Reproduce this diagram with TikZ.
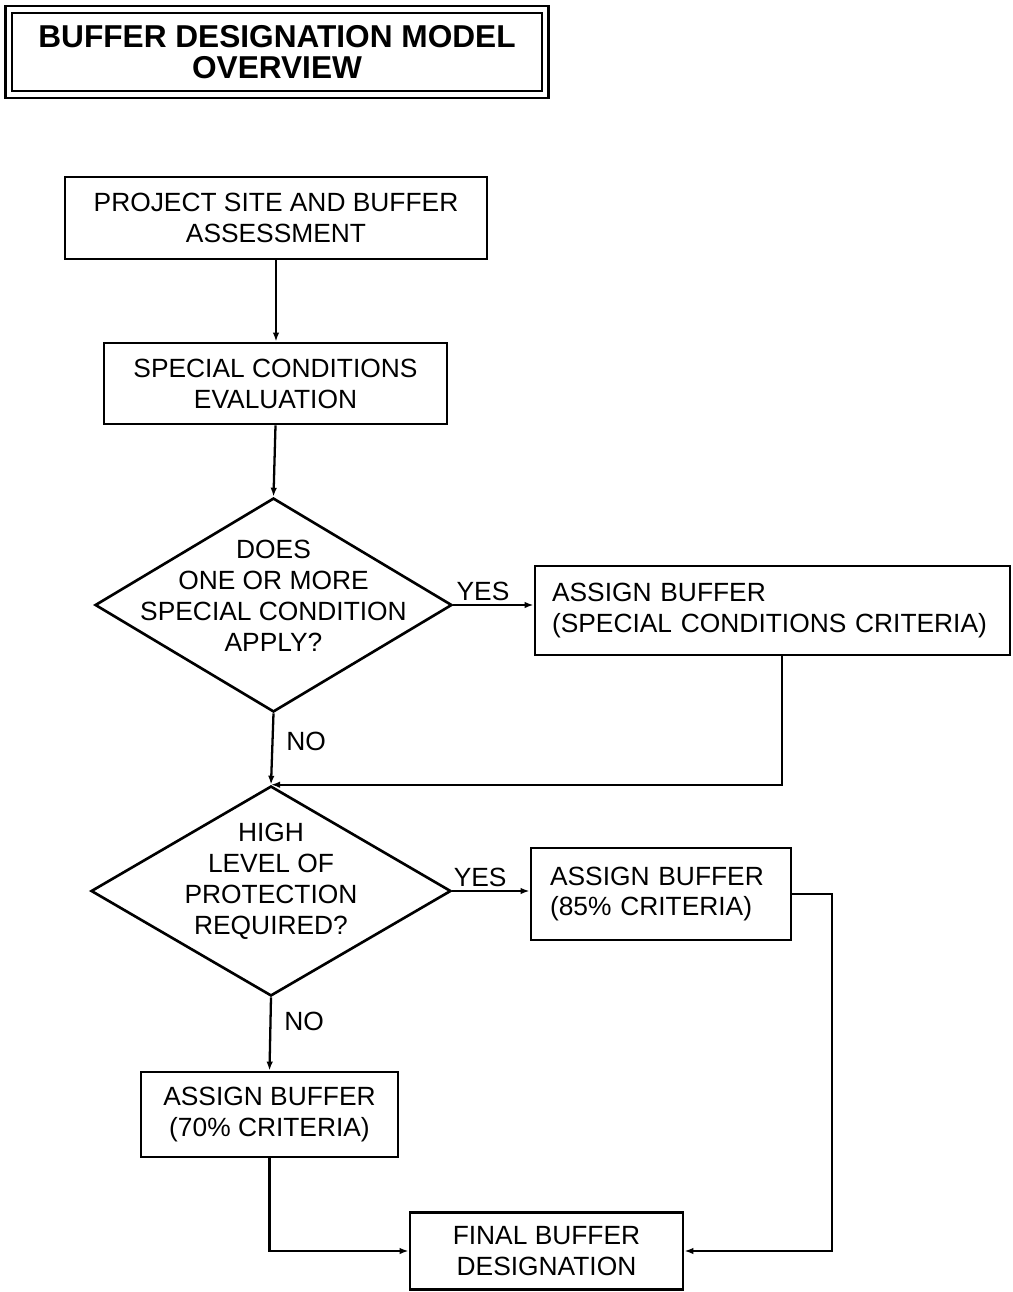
\documentclass[tikz,border=0pt]{standalone}
\usepackage{fontspec}
\setmainfont{Liberation Sans}
\usetikzlibrary{shapes.geometric, arrows.meta, positioning}

\begin{document}
\begin{tikzpicture}[x=0.02cm, y=-0.02cm, font=\fontsize{15}{17.6}\selectfont,
        >={Latex[length=1.8mm, width=1.3mm]},
        caja/.style={draw, line width=1.6pt, align=center, inner sep=0pt},
        cajai/.style={caja, align=left, inner xsep=0.34cm},
        rombo/.style={diamond, draw, line width=1.5pt, inner sep=0pt},
        txt/.style={align=center, inner sep=0pt},
        fl/.style={->, line width=1.3pt},
        lbl/.style={inner sep=1.5pt}]
        \useasboundingbox (0,0) rectangle (1012,1292);
        \node[draw, line width=1.3pt, double, double distance=0.09cm,
            minimum width=10.73cm, minimum height=1.71cm, align=center,
            font=\bfseries\fontsize{18}{17.5}\selectfont] (tit) at (277,52)
            {BUFFER DESIGNATION MODEL\\OVERVIEW};
        \node[caja, minimum width=8.44cm, minimum height=1.64cm] (b1) at (276,218)
            {PROJECT SITE AND BUFFER\\ASSESSMENT};
        \node[caja, minimum width=6.86cm, minimum height=1.62cm] (b2) at (275.5,383.5)
            {SPECIAL CONDITIONS\\EVALUATION};
        \node[rombo, minimum width=7.14cm, minimum height=4.28cm] (d1) at (273.5,605) {};
        \node[txt, yshift=0.18cm] (t1) at (d1) {DOES\\ONE OR MORE\\SPECIAL CONDITION\\APPLY?};
        \node[cajai, text width=8.82cm, minimum height=1.78cm] (b3) at (772.5,610.5)
            {ASSIGN BUFFER\\(SPECIAL CONDITIONS CRITERIA)};
        \node[rombo, minimum width=7.2cm, minimum height=4.2cm] (d2) at (271,891) {};
        \node[txt, yshift=0.2cm] (t2) at (d2) {HIGH\\LEVEL OF\\PROTECTION\\REQUIRED?};
        \node[cajai, inner xsep=0.38cm, text width=4.44cm, minimum height=1.84cm] (b4) at (661,894)
            {ASSIGN BUFFER\\(85\% CRITERIA)};
        \node[caja, minimum width=5.14cm, minimum height=1.7cm] (b5) at (269.5,1114.5)
            {ASSIGN BUFFER\\(70\% CRITERIA)};
        \node[caja, minimum width=5.46cm, minimum height=1.54cm] (b6) at (546.5,1251)
            {FINAL BUFFER\\DESIGNATION};
        \coordinate (c1) at (782,787);
        \coordinate (c2) at (832,1000);
        \draw[fl] (b1.south) -- (b1.south |- b2.north);
        \draw[fl] (b2.south) -- (d1.north);
        \draw[fl] (d1.east) -- node[lbl, above, pos=0.37] {YES} (d1.east -| b3.west);
        \draw[fl] (d1.south) -- node[lbl, right=0.2cm, pos=0.39] {NO} (d2.north);
        \draw[fl] (b3.south -| c1) |- (d2.north);
        \draw[fl] (d2.east) -- node[lbl, above, pos=0.36] {YES} (d2.east -| b4.west);
        \draw[fl] (d2.south) -- node[lbl, right=0.2cm, pos=0.33] {NO} (b5.north);
        \draw[fl] (b4.east) -| (c2) |- (b6.east);
        \draw[fl] (b5.south) |- (b6.west);
    \end{tikzpicture}
\end{document}
